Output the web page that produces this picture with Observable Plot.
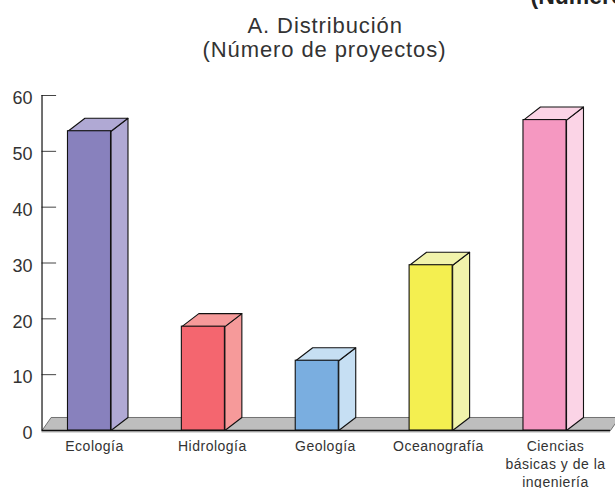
<!DOCTYPE html>
<html>
<head>
<meta charset="utf-8">
<script src="https://cdn.jsdelivr.net/npm/d3@7"></script>
<script src="https://cdn.jsdelivr.net/npm/@observablehq/plot@0.6"></script>
<style>
html,body{margin:0;padding:0;background:#fff;overflow:hidden}
svg{display:block}
.ttl text{letter-spacing:.9px}
.cat text{letter-spacing:.5px}
</style>
</head>
<body>
<script>
const categories = ["Ecología", "Hidrología", "Geología", "Oceanografía", "Ciencias\nbásicas y de la\ningeniería"];
const projects = [53.6, 18.6, 12.5, 29.6, 55.6];
const frontColors = ["#8881bd", "#f4666f", "#7aaee0", "#f4ef50", "#f598c1"];
const sideColors = ["#b0a9d4", "#f69a9a", "#c6dff3", "#f1f3ab", "#fbd4e6"];
const yTicks = [0, 10, 20, 30, 40, 50, 60];
const titleLines = ["A. Distribución", "(Número de proyectos)"];
const clippedHeading = "(Número de proyectos)";

// layout, in scale units
const halfBar = 0.189, depthX = 0.149, depthY = 2.33;
const axisX = -0.417, tickLen = 0.128, floorEnd = 4.575, floorDepthX = 0.08;
const labelShift = [0.044, 0.079, 0.072, 0.064, 0.092];

const bars = categories.map((c, i) => ({c, i, v: projects[i], front: frontColors[i], side: sideColors[i]}));
const sidePts = bars.flatMap(b => {
  const r = b.i + halfBar;
  return [[r, 0], [r + depthX, depthY], [r + depthX, b.v + depthY], [r, b.v]]
    .map(([x, y]) => ({x, y, k: b.c, fill: b.side}));
});
const topPts = bars.flatMap(b => {
  const l = b.i - halfBar, r = b.i + halfBar;
  return [[l, b.v], [l + depthX, b.v + depthY], [r + depthX, b.v + depthY], [r, b.v]]
    .map(([x, y]) => ({x, y, k: b.c, fill: b.side}));
});
const floorPts = [[axisX, 0], [axisX + floorDepthX, depthY], [floorEnd + floorDepthX, depthY], [floorEnd, 0]]
  .map(([x, y]) => ({x, y}));

const chart = Plot.plot({
  width: 615,
  height: 488,
  marginLeft: 41,
  marginRight: 0,
  marginTop: 0,
  marginBottom: 0,
  x: {domain: [0, 4], range: [89, 544.5], axis: null},
  y: {domain: [0, 60], range: [430, 95], axis: null},
  style: {fontFamily: "'Liberation Sans', Arial, sans-serif", background: "#fff", color: "#333"},
  marks: [
    Plot.axisY({ticks: yTicks, anchor: "left", tickSize: 0, tickPadding: 9, fontSize: 18, dy: 3, fill: "#333", tickFormat: d => String(d), label: null}),
    Plot.ruleY(yTicks.slice(1), {x1: axisX, x2: axisX + tickLen, stroke: "#444", strokeWidth: 1}),
    Plot.line(floorPts, {x: "x", y: "y", fill: "#bebebe", stroke: "#555", strokeWidth: 0.8, curve: "linear-closed"}),
    Plot.ruleX([axisX], {y1: 0, y2: 60, stroke: "#111", strokeWidth: 1.2}),
    Plot.ruleY([0], {x1: axisX, x2: floorEnd, stroke: "#ccc", strokeWidth: 1.5, dy: 1.5}),
    Plot.ruleY([0], {x1: axisX, x2: floorEnd, stroke: "#111", strokeWidth: 1.6}),
    Plot.line(sidePts, {x: "x", y: "y", z: "k", fill: "fill", stroke: "#111", strokeWidth: 1.1, curve: "linear-closed"}),
    Plot.line(topPts, {x: "x", y: "y", z: "k", fill: "fill", stroke: "#111", strokeWidth: 1.1, curve: "linear-closed"}),
    Plot.rect(bars, {x1: d => d.i - halfBar, x2: d => d.i + halfBar, y1: 0, y2: "v", fill: "front", stroke: "#111", strokeWidth: 1.1}),
    Plot.text(bars, {x: d => d.i + labelShift[d.i], y: 0, text: "c", frameAnchor: "bottom", lineAnchor: "top", dy: 8, fontSize: 14, lineHeight: 1.29, fill: "#333", className: "cat"}),
    Plot.text([titleLines[0]], {frameAnchor: "top-left", text: d => d, dx: 247 - 41, dy: 16.4, fontSize: 22, textAnchor: "start", lineAnchor: "top", fill: "#333", className: "ttl"}),
    Plot.text([titleLines[1]], {frameAnchor: "top-left", text: d => d, dx: 202 - 41, dy: 40.4, fontSize: 22, textAnchor: "start", lineAnchor: "top", fill: "#333", className: "ttl"}),
    Plot.text([clippedHeading], {frameAnchor: "top-left", text: d => d, dx: 530 - 41, dy: -12.8, fontSize: 23, fontWeight: "bold", textAnchor: "start", lineAnchor: "top", fill: "#222"})
  ]
});
document.body.appendChild(chart);
</script>
</body>
</html>
